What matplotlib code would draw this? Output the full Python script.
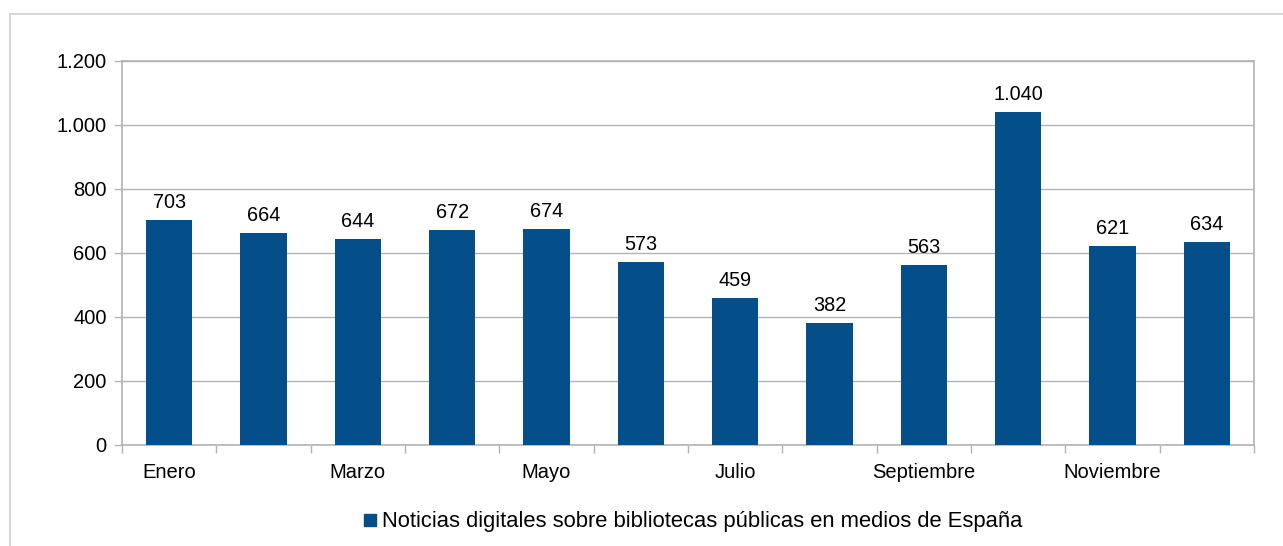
import matplotlib
matplotlib.use("Agg")
import matplotlib.pyplot as plt
from matplotlib.lines import Line2D
from matplotlib.ticker import FuncFormatter, FixedLocator

months = ["Enero", "Febrero", "Marzo", "Abril", "Mayo", "Junio", "Julio",
          "Agosto", "Septiembre", "Octubre", "Noviembre", "Diciembre"]
values = [703, 664, 644, 672, 674, 573, 459, 382, 563, 1040, 621, 634]
series_name = "Noticias digitales sobre bibliotecas públicas en medios de España"

BAR = "#044F8A"
GRID = "#b3b3b3"

plt.rcParams["font.family"] = ["Liberation Sans", "DejaVu Sans"]

W, H = 1283, 546
fig = plt.figure(figsize=(W / 100, H / 100), dpi=100)
ax = fig.add_axes([122 / W, 1 - 445 / H, (1254 - 122) / W, (445 - 61) / H])

def fmt(v):
    return f"{int(v):,}".replace(",", ".")

x = list(range(len(months)))
ax.bar(x, values, width=0.49, color=BAR, zorder=3)
for xi, v in zip(x, values):
    ax.text(xi, v + 25, fmt(v), ha="center", va="bottom", fontsize=14.3, color="black")

ax.set_xlim(-0.5, len(months) - 0.5)
ax.set_ylim(0, 1200)
ax.set_yticks(range(0, 1201, 200))
ax.yaxis.set_major_formatter(FuncFormatter(lambda v, p: fmt(v)))
ax.grid(axis="y", color=GRID, linewidth=1, zorder=0)

ax.set_xticks([xi for xi in x if xi % 2 == 0])
ax.set_xticklabels([m for i, m in enumerate(months) if i % 2 == 0])
ax.xaxis.set_minor_locator(FixedLocator([i - 0.5 for i in range(len(months) + 1)]))
ax.tick_params(axis="x", which="major", length=0, pad=13, labelsize=14.5)
ax.tick_params(axis="x", which="minor", length=6, color=GRID, width=1)
ax.tick_params(axis="y", length=6, color=GRID, width=1, labelsize=14.5, pad=5)

for s in ax.spines.values():
    s.set_color(GRID)
    s.set_linewidth(1.2)

handle = Line2D([], [], marker="s", linestyle="none", color=BAR, markersize=9)
fig.legend([handle], [series_name], loc="center", bbox_to_anchor=(691 / W, 1 - 522 / H),
           frameon=False, fontsize=15.8, handletextpad=0.1, handlelength=0.9)

# outer border
fig.add_artist(Line2D([10 / W, 10 / W], [0, 1 - 14 / H], color="#d0d0d0", linewidth=1.2,
                      transform=fig.transFigure))
fig.add_artist(Line2D([10 / W, 1], [1 - 14 / H, 1 - 14 / H], color="#d0d0d0", linewidth=1.2,
                      transform=fig.transFigure))

fig.savefig("out.png", dpi=100)
